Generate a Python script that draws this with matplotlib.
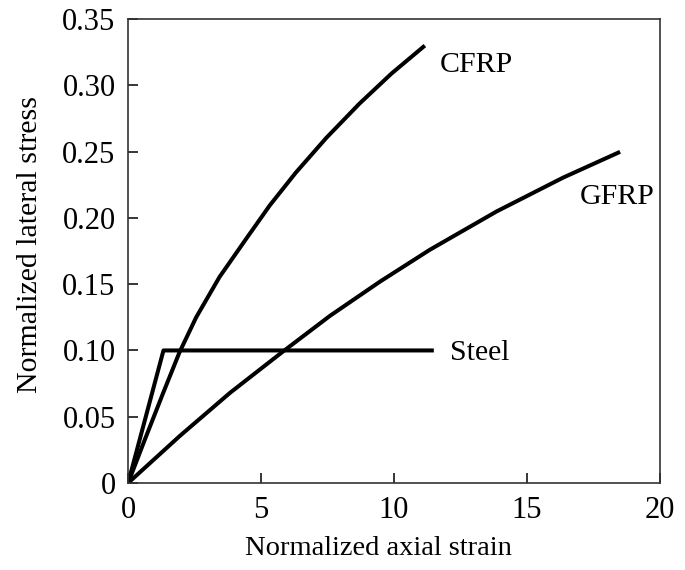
"""Normalized lateral stress vs axial strain for steel, CFRP and GFRP."""
import matplotlib
matplotlib.use("Agg")
from matplotlib import pyplot as plt

plt.rcParams["font.family"] = ["Liberation Serif", "DejaVu Serif"]

# values
cfrp_x = [0, 0.65, 1.3, 1.93, 2.56, 3.44, 4.45, 5.33, 6.3, 7.45, 8.7, 9.9, 11.1]
cfrp_y = [0, 0.0338, 0.0670, 0.0985, 0.1250, 0.1555, 0.1845, 0.2095, 0.2340,
          0.2603, 0.2862, 0.3088, 0.329]

gfrp_x = [0, 1.95, 3.83, 5.83, 7.59, 9.47, 11.35, 13.86, 16.36, 18.43]
gfrp_y = [0, 0.0356, 0.0680, 0.0993, 0.1261, 0.1519, 0.1760, 0.2049, 0.2304, 0.2492]

steel_x = [0, 1.33, 11.42]
steel_y = [0, 0.10, 0.10]

labels = ["CFRP", "GFRP", "Steel"]
label_pos = [(11.7, 0.315), (17.0, 0.216), (12.1, 0.098)]

fig = plt.figure(figsize=(6.85, 5.7), dpi=100)
ax = fig.add_axes([0.187, 0.1526, 0.7765, 0.814])

for xs, ys in [(cfrp_x, cfrp_y), (gfrp_x, gfrp_y), (steel_x, steel_y)]:
    ax.plot(xs, ys, color="black", lw=2.9, solid_joinstyle="round")

for name, (lx, ly) in zip(labels, label_pos):
    ax.text(lx, ly, name, fontsize=21.5, va="center", ha="left")

ax.set_xlim(0, 20)
ax.set_ylim(0, 0.35)
ax.set_xticks([0, 5, 10, 15, 20])
ax.set_xticklabels(["0", "5", "10", "15", "20"])
ax.set_yticks([0, 0.05, 0.10, 0.15, 0.20, 0.25, 0.30, 0.35])
ax.set_yticklabels(["0", "0.05", "0.10", "0.15", "0.20", "0.25", "0.30", "0.35"])
ax.tick_params(direction="in", length=7, width=1.1, labelsize=22,
               top=False, right=False, pad=9)
for sp in ax.spines.values():
    sp.set_linewidth(1.2)
    sp.set_color("#333333")

ax.set_xlabel("Normalized axial strain", fontsize=20.5)
ax.set_ylabel("Normalized lateral stress", fontsize=21.5)
ax.xaxis.set_label_coords(0.47, -0.115)
ax.yaxis.set_label_coords(-0.16, 0.515)

fig.savefig("out.png", dpi=100)
